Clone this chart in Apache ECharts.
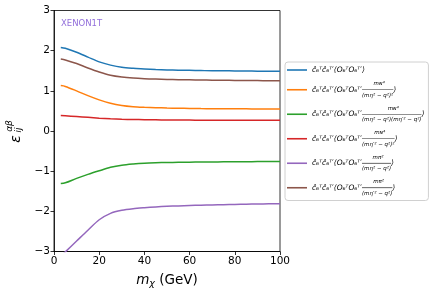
<!DOCTYPE html>
<html>
<head>
<meta charset="utf-8">
<script src="https://cdn.jsdelivr.net/npm/echarts@6/dist/echarts.min.js"></script>
<style>html,body{margin:0;padding:0;background:#fff;}#c{width:436px;height:295px;}</style>
</head>
<body>
<div id="c"></div>
<script>
// ---- data ----
const mChi = [3, 5, 10, 15, 20, 25, 30, 35, 40, 45, 50, 55, 60, 65, 70, 75, 80, 85, 90, 95, 100];
const blueVals   = [2.08, 2.06, 1.96, 1.84, 1.72, 1.64, 1.585, 1.56, 1.545, 1.53, 1.52, 1.515, 1.51, 1.505, 1.50, 1.50, 1.495, 1.495, 1.49, 1.49, 1.49];
const orangeVals = [1.13, 1.11, 1.00, 0.88, 0.775, 0.69, 0.635, 0.605, 0.59, 0.58, 0.572, 0.566, 0.562, 0.558, 0.555, 0.553, 0.552, 0.551, 0.55, 0.55, 0.55];
const greenVals  = [-1.31, -1.29, -1.18, -1.08, -0.99, -0.905, -0.85, -0.82, -0.80, -0.79, -0.785, -0.78, -0.776, -0.773, -0.77, -0.768, -0.766, -0.764, -0.762, -0.761, -0.76];
const redVals    = [0.385, 0.38, 0.36, 0.34, 0.32, 0.305, 0.293, 0.286, 0.281, 0.278, 0.275, 0.273, 0.271, 0.27, 0.269, 0.268, 0.267, 0.266, 0.265, 0.265, 0.265];
const purpleVals = [-3.12, -3.01, -2.74, -2.47, -2.21, -2.05, -1.975, -1.935, -1.91, -1.89, -1.875, -1.865, -1.855, -1.847, -1.84, -1.834, -1.828, -1.822, -1.817, -1.813, -1.81];
const brownVals  = [1.79, 1.77, 1.68, 1.57, 1.47, 1.39, 1.345, 1.318, 1.302, 1.292, 1.285, 1.279, 1.274, 1.27, 1.266, 1.263, 1.26, 1.257, 1.255, 1.252, 1.25];

const xTicks = [0, 20, 40, 60, 80, 100];
const yTicks = [-3, -2, -1, 0, 1, 2, 3];

const legendPrefix = 'ĉ₆ᵀĉ₆ᵀ′⟨O₆ᵀO₆ᵀ′';
const legendNums = ['', 'mɴ⁴', 'mɴ⁴', 'mɴ⁴', 'mπ²', 'mπ²'];
const legendDens = ['', '(mη² − q²)²', '(mη² − q²)(mη′² − q²)', '(mη′² − q²)²', '(mη² − q²)', '(mη′² − q²)'];
const annotation = 'XENON1T';

const allVals = [blueVals, orangeVals, greenVals, redVals, purpleVals, brownVals];
const colors = ['#1f77b4', '#ff7f0e', '#2ca02c', '#d62728', '#9467bd', '#8c564b'];
const names = ['s1', 's2', 's3', 's4', 's5', 's6'];

// ---- text measuring for legend layout ----
const ctx = document.createElement('canvas').getContext('2d');
function tw(text, font) { ctx.font = font; return ctx.measureText(text).width; }
const FF = '"DejaVu Sans"';
const mainSize = 7.5, fracSize = 5.5;
const prefixW = tw(legendPrefix, 'italic ' + mainSize + 'px ' + FF);

const rich = {
  a: { fontSize: mainSize, fontFamily: FF, fontStyle: 'italic', color: '#000', lineHeight: 6 },
  a1: { fontSize: mainSize, fontFamily: FF, fontStyle: 'italic', color: '#000', lineHeight: 9 },
  sp: { width: prefixW, fontSize: fracSize, lineHeight: 5.5 }
};
for (let k = 1; k < 6; k++) {
  const dw = tw(legendDens[k], 'italic ' + fracSize + 'px ' + FF);
  rich['n' + k] = { fontSize: fracSize, fontFamily: FF, fontStyle: 'italic', color: '#000', width: dw, align: 'center', lineHeight: 5.5 };
  rich['d' + k] = { fontSize: fracSize, fontFamily: FF, fontStyle: 'italic', color: '#000', lineHeight: 5.5 };
  rich['b' + k] = { width: dw, height: 0.7, backgroundColor: '#222', lineHeight: 6 };
}
function legendText(name) {
  const k = names.indexOf(name);
  if (k === 0) return '{a1|' + legendPrefix + '⟩}';
  return '{sp| }{n' + k + '|' + legendNums[k] + '}\n' +
         '{a|' + legendPrefix + '}{b' + k + '| }{a|⟩}\n' +
         '{sp| }{d' + k + '|' + legendDens[k] + '}';
}

const series = allVals.map((vals, i) => ({
  name: names[i],
  type: 'line',
  data: mChi.map((x, j) => [x, vals[j]]),
  smooth: 0.3,
  symbol: 'none',
  lineStyle: { width: 1.5, color: colors[i] },
  itemStyle: { color: colors[i] },
  clip: true,
  z: 2
}));

const chart = echarts.init(document.getElementById('c'), null, { renderer: 'canvas' });
const fmtNum = v => (v < 0 ? '−' + Math.abs(v) : String(v));
chart.setOption({
  animation: false,
  backgroundColor: '#fff',
  textStyle: { fontFamily: FF },
  grid: { left: 54, right: 156, top: 10.5, bottom: 43.5, show: true, borderColor: '#000', borderWidth: 0.8, containLabel: false },
  xAxis: {
    type: 'value', min: xTicks[0], max: xTicks[xTicks.length - 1], interval: xTicks[1] - xTicks[0],
    axisLine: { show: true, onZero: false, lineStyle: { color: '#000', width: 0.8 } },
    axisTick: { show: true, inside: false, length: 3.5, lineStyle: { color: '#000', width: 0.8 } },
    axisLabel: { color: '#000', fontSize: 10.5, fontFamily: FF, margin: 4, formatter: fmtNum },
    splitLine: { show: false },
    name: '{i|m}{s|χ}{n| (GeV)}',
    nameLocation: 'middle', nameGap: 21,
    nameTextStyle: { rich: {
      i: { fontSize: 13.5, fontFamily: FF, fontStyle: 'italic', color: '#000' },
      s: { fontSize: 9.5, fontFamily: FF, fontStyle: 'italic', color: '#000', padding: [6, 0, 0, 0] },
      n: { fontSize: 13.5, fontFamily: FF, color: '#000' }
    } }
  },
  yAxis: {
    type: 'value', min: yTicks[0], max: yTicks[yTicks.length - 1], interval: yTicks[1] - yTicks[0],
    axisLine: { show: true, onZero: false, lineStyle: { color: '#000', width: 0.8 } },
    axisTick: { show: true, inside: false, length: 3.5, lineStyle: { color: '#000', width: 0.8 } },
    axisLabel: { color: '#000', fontSize: 10.5, fontFamily: FF, margin: 4, formatter: fmtNum },
    splitLine: { show: false }
  },
  legend: {
    orient: 'vertical', left: 285, top: 62,
    data: names,
    selectedMode: false,
    icon: 'rect',
    itemWidth: 20, itemHeight: 1.6, itemGap: 7,
    padding: [4, 4, 4, 2],
    backgroundColor: '#fff', borderColor: '#d0d0d0', borderWidth: 1, borderRadius: 3,
    formatter: legendText,
    textStyle: { rich: rich, fontFamily: FF, color: '#000' }
  },
  graphic: [
    { type: 'text', x: 61, y: 24, style: { text: annotation, fontSize: 8.5, fontFamily: FF, fill: '#9370DB', verticalAlign: 'middle', align: 'left' } },
    { type: 'text', x: 16, y: 139, rotation: Math.PI / 2, style: { text: 'ε', fontSize: 14, fontFamily: FF, fontStyle: 'italic', fill: '#000', align: 'center', verticalAlign: 'middle' } },
    { type: 'text', x: 10, y: 126, rotation: Math.PI / 2, style: { text: 'αβ', fontSize: 9, fontFamily: FF, fontStyle: 'italic', fill: '#000', align: 'center', verticalAlign: 'middle' } },
    { type: 'text', x: 19, y: 130, rotation: Math.PI / 2, style: { text: 'ij', fontSize: 9, fontFamily: FF, fontStyle: 'italic', fill: '#000', align: 'center', verticalAlign: 'middle' } }
  ],
  series: series
});
</script>
</body>
</html>
